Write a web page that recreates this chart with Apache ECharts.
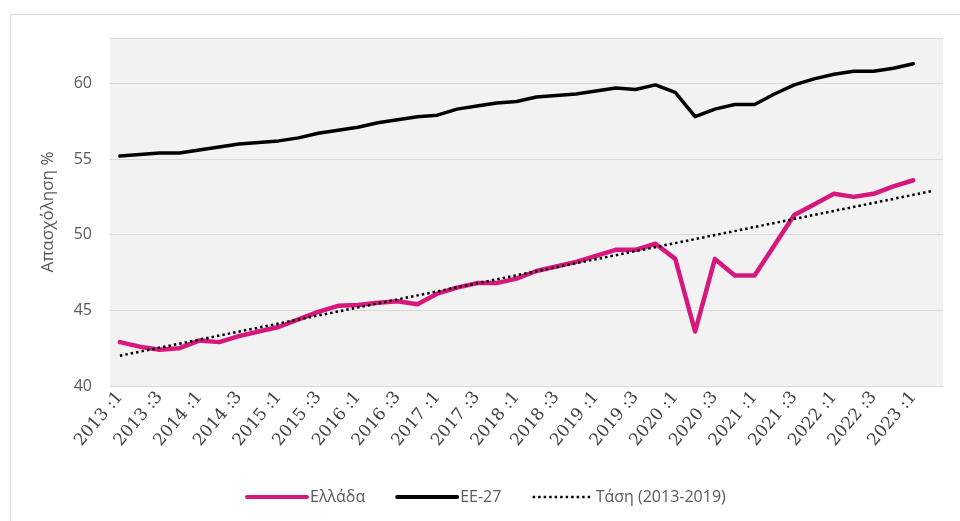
<!DOCTYPE html>
<html>
<head>
<meta charset="utf-8">
<script src="https://cdn.jsdelivr.net/npm/echarts@6/dist/echarts.min.js"></script>
<style>
  html, body { margin: 0; padding: 0; background: #fff; }
  #chart { width: 960px; height: 521px; }
</style>
</head>
<body>
<div id="chart"></div>
<script>
// Quarters from 2013:1 to 2023:2 (the last slot only carries the trend end point)
const quarters = [
  '2013 :1','2013 :2','2013 :3','2013 :4',
  '2014 :1','2014 :2','2014 :3','2014 :4',
  '2015 :1','2015 :2','2015 :3','2015 :4',
  '2016 :1','2016 :2','2016 :3','2016 :4',
  '2017 :1','2017 :2','2017 :3','2017 :4',
  '2018 :1','2018 :2','2018 :3','2018 :4',
  '2019 :1','2019 :2','2019 :3','2019 :4',
  '2020 :1','2020 :2','2020 :3','2020 :4',
  '2021 :1','2021 :2','2021 :3','2021 :4',
  '2022 :1','2022 :2','2022 :3','2022 :4',
  '2023 :1','2023 :2'
];

// Employment rate, Greece (%)
const greece = [
  42.9, 42.6, 42.4, 42.5,
  43.0, 42.9, 43.3, 43.6,
  43.9, 44.4, 44.9, 45.3,
  45.35, 45.5, 45.6, 45.4,
  46.1, 46.5, 46.8, 46.8,
  47.1, 47.6, 47.9, 48.2,
  48.6, 49.0, 49.0, 49.4,
  48.4, 43.6, 48.4, 47.3,
  47.3, 49.3, 51.3, 52.0,
  52.7, 52.5, 52.7, 53.2,
  53.6, null
];

// Employment rate, EU-27 (%)
const eu27 = [
  55.2, 55.3, 55.4, 55.4,
  55.6, 55.8, 56.0, 56.1,
  56.2, 56.4, 56.7, 56.9,
  57.1, 57.4, 57.6, 57.8,
  57.9, 58.3, 58.5, 58.7,
  58.8, 59.1, 59.2, 59.3,
  59.5, 59.7, 59.6, 59.9,
  59.4, 57.8, 58.3, 58.6,
  58.6, 59.3, 59.9, 60.3,
  60.6, 60.8, 60.8, 61.0,
  61.3, null
];

// Linear trend fitted on 2013-2019, given by its two end points
const trendStart = 42.0;
const trendEnd = 52.9;

const yTicks = { min: 40, max: 63, step: 5 };

const trend = quarters.map((q, i) =>
  i === 0 ? trendStart : (i === quarters.length - 1 ? trendEnd : null));

const chart = echarts.init(document.getElementById('chart'), null, { renderer: 'canvas' });

const sans = '"Open Sans", "Noto Sans", sans-serif';
const pink = '#d6187c';

chart.setOption({
  animation: false,
  backgroundColor: '#ffffff',
  graphic: [{
    type: 'rect',
    shape: { x: 10.5, y: 14.5, width: 970, height: 520 },
    style: { fill: 'none', stroke: '#d9d9d9', lineWidth: 1 },
    silent: true
  }],
  grid: {
    left: 110, right: 17, top: 38, bottom: 135,
    show: true, backgroundColor: '#f2f2f2', borderWidth: 0
  },
  legend: {
    left: 240, top: 484,
    itemWidth: 60, itemHeight: 14, itemGap: 30,
    itemStyle: { opacity: 0 },
    textStyle: { fontFamily: sans, fontSize: 16, color: '#595959', padding: [0, 0, 0, -2] },
    data: [
      { name: 'Ελλάδα', lineStyle: { width: 4, color: pink } },
      { name: 'ΕΕ-27', lineStyle: { width: 4, color: '#000' } },
      { name: 'Τάση (2013-2019)', lineStyle: { width: 2.5, color: '#000', type: [2.5, 3] } }
    ]
  },
  xAxis: {
    type: 'category',
    data: quarters,
    boundaryGap: true,
    axisLine: { show: true, lineStyle: { color: '#d9d9d9', width: 1 } },
    axisTick: { show: false },
    axisLabel: {
      interval: 1,
      rotate: 50,
      margin: 8,
      fontFamily: '"DejaVu Serif", "Liberation Serif", serif',
      fontSize: 17,
      color: '#404040'
    },
    splitLine: { show: false }
  },
  yAxis: {
    type: 'value',
    min: yTicks.min, max: yTicks.max, interval: yTicks.step,
    name: 'Απασχόληση %',
    nameLocation: 'middle',
    nameGap: 53,
    nameTextStyle: { fontFamily: sans, fontSize: 17, color: '#595959' },
    axisLine: { show: false },
    axisTick: { show: false },
    axisLabel: {
      showMaxLabel: false,
      margin: 18,
      fontFamily: sans, fontSize: 16, color: '#595959'
    },
    splitLine: { lineStyle: { color: '#d9d9d9', width: 1 } }
  },
  series: [
    {
      name: 'Ελλάδα',
      type: 'line',
      data: greece,
      showSymbol: false,
      symbol: 'none',
      lineStyle: { color: pink, width: 4.5, join: 'round', cap: 'round' },
      itemStyle: { color: pink },
      z: 3
    },
    {
      name: 'ΕΕ-27',
      type: 'line',
      data: eu27,
      showSymbol: false,
      symbol: 'none',
      lineStyle: { color: '#000000', width: 3.5, join: 'round', cap: 'round' },
      itemStyle: { color: '#000000' },
      z: 3
    },
    {
      name: 'Τάση (2013-2019)',
      type: 'line',
      data: trend,
      connectNulls: true,
      showSymbol: false,
      symbol: 'none',
      lineStyle: { color: '#000000', width: 2.5, type: [2.5, 3] },
      itemStyle: { color: '#000000' },
      z: 4
    }
  ]
});
</script>
</body>
</html>
